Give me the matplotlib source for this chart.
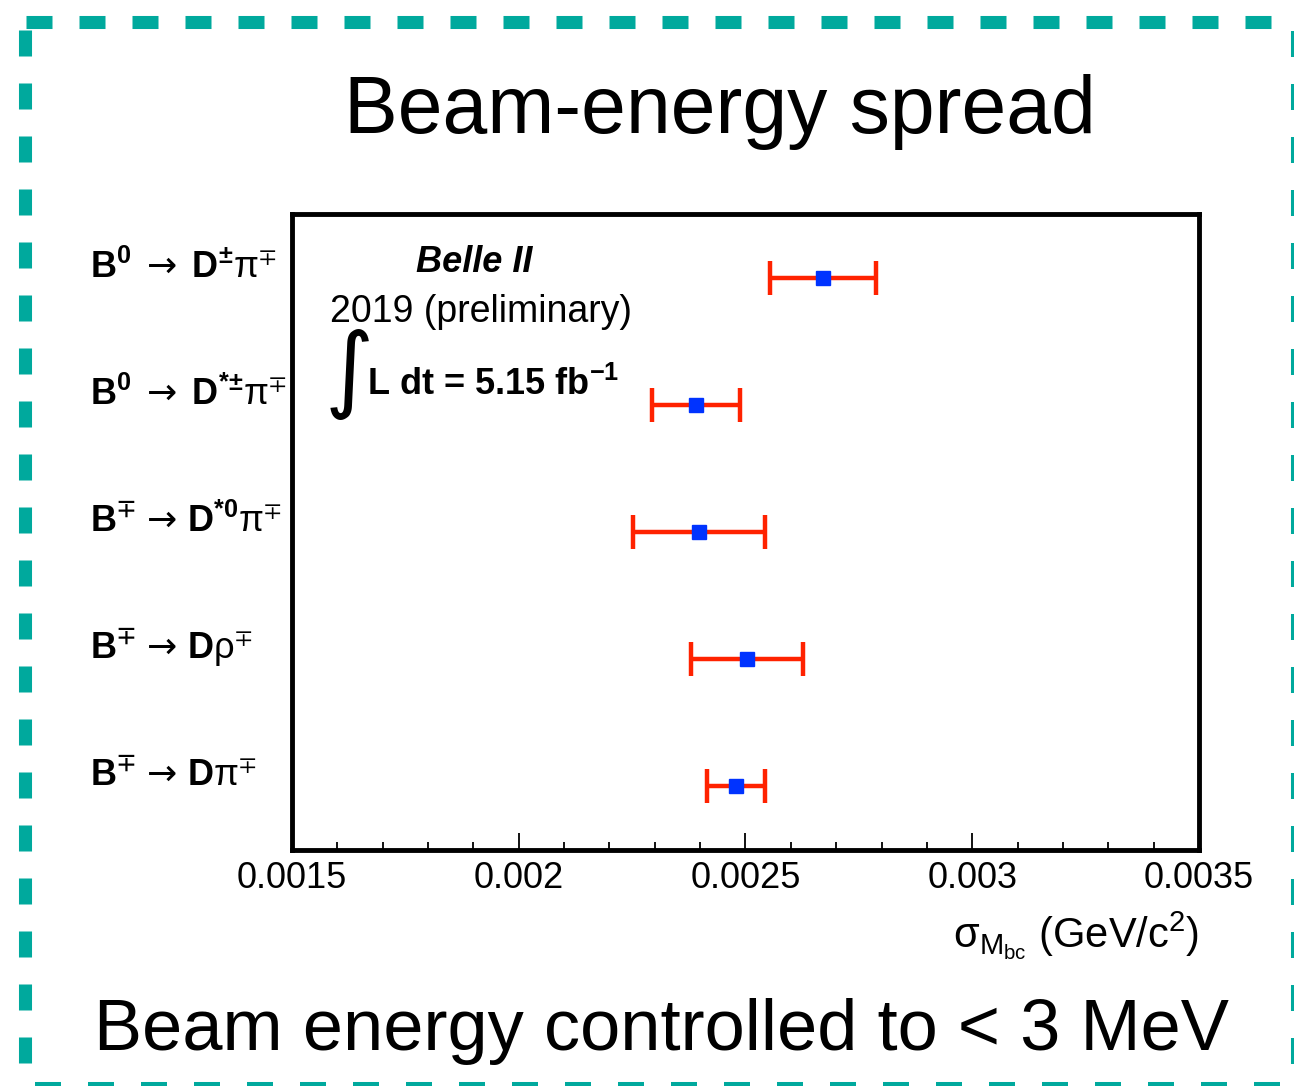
# Beam-energy spread (sigma of Mbc per decay channel)
import numpy as np
import matplotlib
matplotlib.use("Agg")
import matplotlib.pyplot as plt
from matplotlib.lines import Line2D

plt.rcParams['font.family'] = ['Liberation Sans', 'DejaVu Sans']
plt.rcParams['mathtext.fontset'] = 'custom'
plt.rcParams['mathtext.rm'] = 'Liberation Sans'
plt.rcParams['mathtext.bf'] = 'Liberation Sans:bold'
plt.rcParams['mathtext.it'] = 'Liberation Sans:italic'
plt.rcParams['mathtext.sf'] = 'DejaVu Sans'

# channels, top to bottom
channels = [
    r'$\mathbf{B^{0}}\ \,\mathsf{→}\ \,\mathbf{D^{±}}\mathrm{π}^{∓}$',
    r'$\mathbf{B^{0}}\ \,\mathsf{→}\ \,\mathbf{D^{*±}}\mathrm{π}^{∓}$',
    r'$\mathbf{B^{∓}}\ \mathsf{→}\ \mathbf{D^{*0}}\mathrm{π}^{∓}$',
    r'$\mathbf{B^{∓}}\ \mathsf{→}\ \mathbf{D}\mathrm{ρ}^{∓}$',
    r'$\mathbf{B^{∓}}\ \mathsf{→}\ \mathbf{D}\mathrm{π}^{∓}$',
]
sigma_mbc = [0.002670, 0.002390, 0.002397, 0.002503, 0.002479]
sigma_err = [0.000117, 0.000097, 0.000146, 0.000124, 0.000063]

xticks = [0.0015, 0.002, 0.0025, 0.003, 0.0035]
xtick_labels = ['0.0015', '0.002', '0.0025', '0.003', '0.0035']

W, H = 1294, 1086
fig = plt.figure(figsize=(W / 100, H / 100), dpi=100)


def fx(px):
    return px / W


def fy(py):
    return 1 - py / H


ax = fig.add_axes([fx(292), fy(850), fx(1199) - fx(292), fy(214) - fy(850)])

n = len(channels)
ypos = np.arange(n)[::-1] + 0.5

ax.errorbar(sigma_mbc, ypos, xerr=sigma_err, fmt='none', ecolor='#ff2200',
            elinewidth=3.2, capsize=12, capthick=3.2, zorder=2)
ax.plot(sigma_mbc, ypos, 's', color='#0033ff', markersize=10,
        markeredgecolor='#0033ff', zorder=3)

ax.set_xlim(0.0015, 0.0035)
ax.set_ylim(0, n)
ax.set_xticks(xticks, xtick_labels)
ax.set_xticks(np.arange(0.0015, 0.00351, 0.0001), minor=True)
ax.tick_params(axis='x', which='major', direction='in', length=12, width=1.3,
               labelsize=26, pad=8, top=False)
ax.tick_params(axis='x', which='minor', direction='in', length=6, width=1.3, top=False)

ax.set_yticks(ypos, channels)
ax.tick_params(axis='y', length=0, labelsize=26, pad=(292 - 90) * 0.72)
for lab in ax.get_yticklabels():
    lab.set_horizontalalignment('left')
    lab.set_verticalalignment('baseline')

for sp in ax.spines.values():
    sp.set_linewidth(3.5)

ax.set_xlabel(r'$\mathrm{σ_{M_{bc}}}$ (GeV/c$^{\mathrm{2}}$)', fontsize=30,
              loc='right', labelpad=10)

# annotations inside the frame
fig.text(fx(474), fy(272), 'Belle II', fontsize=26, fontweight='bold',
         fontstyle='italic', ha='center', va='baseline')
fig.text(fx(330), fy(322), '2019 (preliminary)', fontsize=27,
         ha='left', va='baseline')
fig.text(fx(325), fy(374), '∫', fontsize=68, family='DejaVu Sans',
         ha='left', va='center')
fig.text(fx(367), fy(395), r'L dt = 5.15 fb$^{\mathbf{-1}}$', fontsize=26,
         fontweight='bold', ha='left', va='baseline')

# slide texts
fig.text(fx(720), fy(133), 'Beam-energy spread', fontsize=58,
         ha='center', va='baseline')
fig.text(fx(662), fy(1050), 'Beam energy controlled to < 3 MeV', fontsize=52,
         ha='center', va='baseline')

# dashed teal frame (the right and bottom edges are cut by the slide edge)
teal = '#00a99d'
frame = [
    ((26, 22), (1294, 22), 9.4),
    ((25, 30), (25, 1086), 9.4),
    ((1293, 31), (1293, 1086), 2.9),
    ((35, 1084), (1294, 1084), 2.9),
]
for (x0, y0), (x1, y1), lw in frame:
    unit = lw / 0.72
    fig.add_artist(Line2D([fx(x0), fx(x1)], [fy(y0), fy(y1)],
                          transform=fig.transFigure, color=teal, lw=lw,
                          linestyle=(0, (26 / unit, 27 / unit)),
                          dash_capstyle='butt', clip_on=False))

fig.savefig('out.png', dpi=100)
